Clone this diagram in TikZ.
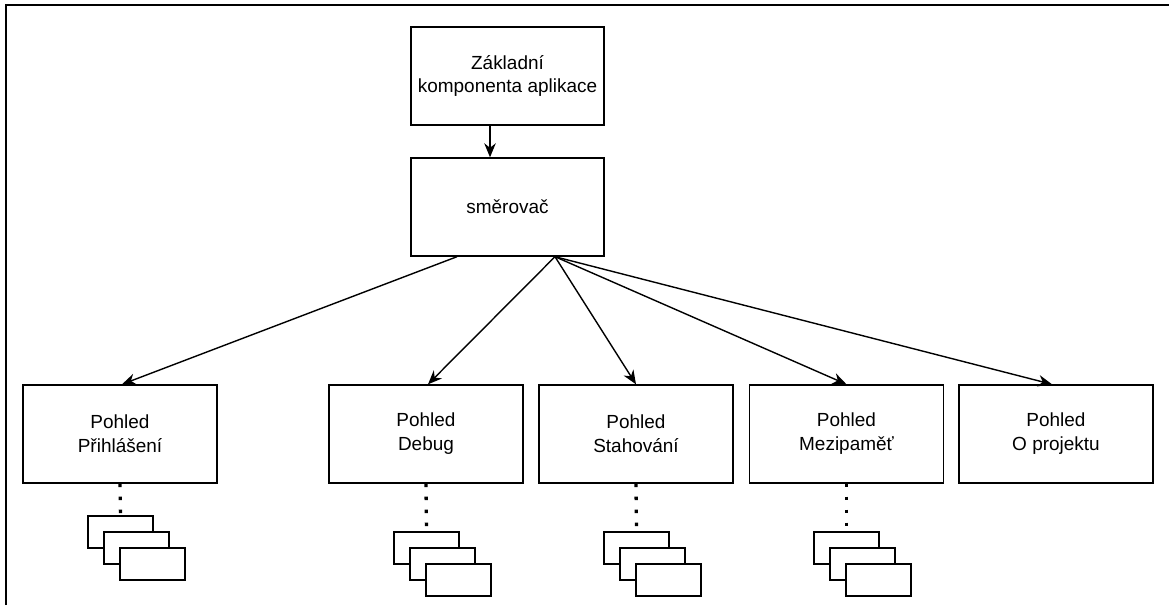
\documentclass[tikz,border=0pt]{standalone}
\usepackage{fontspec}
\setmainfont{Liberation Sans}
\usepackage{tikz}
\usetikzlibrary{arrows.meta, positioning}
\tikzstyle{block} = [rectangle, draw, line width=0.8pt, fill=white,
    minimum width=3.86cm, minimum height=1.96cm, align=center,
    font=\fontsize{10.8}{13.6}\selectfont]
\tikzstyle{view} = [block, minimum width=3.88cm]
\tikzstyle{page} = [rectangle, draw, line width=0.8pt, fill=white,
    minimum width=1.3cm, minimum height=0.64cm, inner sep=0pt]
\tikzstyle{arrow} = [-{Stealth[length=2.8mm, width=2.3mm, inset=0.9mm]}, line width=0.8pt]
\tikzstyle{dots} = [line width=1.9pt, dash pattern=on 1.9pt off 5.5pt]

\begin{document}
\begin{tikzpicture}[x=0.02cm, y=-0.02cm]
    \useasboundingbox (0,0) rectangle (1169,605);
    \draw[line width=1.3pt] (6,605) |- (1169,5);

    % Top
    \node[block] (app) at (507.5,76) {Základní\\komponenta aplikace};
    \node[block] (router) at (507.5,207) {směrovač};
    \draw[arrow] ([xshift=-0.35cm]app.south) -- ([xshift=-0.35cm]router.north);

    % Views
    \node[view] (login) at (120,434) {Pohled\\Přihlášení};
    \node[view] (debug) at (426,434) {Pohled\\Debug};
    \node[view] (download) at (636,434) {Pohled\\Stahování};
    \node[view] (cache) at (846.5,434) {Pohled\\Mezipaměť};
    \node[view] (about) at (1056,434) {Pohled\\O projektu};

    \draw[arrow] ([xshift=-1.01cm]router.south) -- ([xshift=0.04cm]login.north);
    \draw[arrow] ([xshift=0.95cm]router.south) -- ([xshift=0.04cm]debug.north);
    \draw[arrow] ([xshift=0.95cm]router.south) -- (download.north);
    \draw[arrow] ([xshift=0.95cm]router.south) -- (cache.north);
    \draw[arrow] ([xshift=0.95cm]router.south) -- ([xshift=-0.08cm]about.north);

    % Sub-pages
    \foreach \v/\x/\y in {login/120.5/532, debug/426.5/548, download/636.5/548, cache/846.5/548} {
        \node[page] (\v1) at (\x,\y) {};
        \node[page] (\v2) at (\x+16,\y+16) {};
        \node[page] (\v3) at (\x+32,\y+32) {};
        \draw[dots] (\v.south) -- (\v1.north);
    }
\end{tikzpicture}
\end{document}
